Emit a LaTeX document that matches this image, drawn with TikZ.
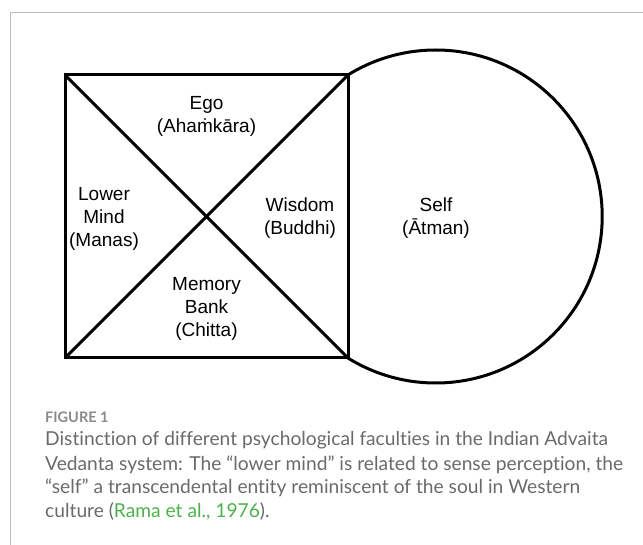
\documentclass[tikz,border=0pt]{standalone}
\usepackage{fontspec}
\setmainfont{Liberation Sans}
\newfontfamily\capfont[Ligatures={NoCommon,TeX}]{Lato}
\definecolor{capgray}{HTML}{6A6A6A}
\definecolor{figgray}{HTML}{8A8A8A}
\definecolor{linkgreen}{HTML}{4DB04D}
\definecolor{framegray}{HTML}{BDBDBD}
\begin{document}
\begin{tikzpicture}[x=1pt,y=-1pt,
  lbl/.style={font=\fontsize{19}{23}\selectfont, align=center, inner sep=0pt},
  capline/.style={font=\capfont\fontsize{19.2}{23}\selectfont, text=capgray, anchor=base west, inner sep=0pt},
  capfig/.style={font=\capfont\bfseries\fontsize{14.5}{17}\selectfont, text=figgray, anchor=base west, inner sep=0pt},
  thick line/.style={line width=3pt, draw=black}]
\useasboundingbox (0,0) rectangle (643,545);
\draw[framegray, line width=1pt] (10,545) -- (10,13) -- (643,13);
\coordinate (tl) at (65,75);
\coordinate (tr) at (348,75);
\coordinate (br) at (348,358);
\coordinate (bl) at (65,358);
\coordinate (c) at (435.7,216.5);
\draw[thick line] (c) circle[radius=166.5pt];
\fill[white] (tl) rectangle (br);
\draw[thick line, line join=miter] (tl) -- (tr) -- (br) -- (bl) -- cycle;
\draw[thick line] (tl) -- (br);
\draw[thick line] (tr) -- (bl);
\node[lbl] (ego) at (206.5,116) {Ego\\(Ahaṁkāra)};
\node[lbl] (manas) at (104,219) {Lower\\Mind\\(Manas)};
\node[lbl] (buddhi) at (300,218) {Wisdom\\(Buddhi)};
\node[lbl] (chitta) at (206.5,309) {Memory\\Bank\\(Chitta)};
\node[lbl] (atman) at (436,218) {Self\\(Ātman)};
\node[capfig] (fig) at (45,423) {FIGURE 1};
\node[capline] (l1) at (45,446) {Distinction of different psychological faculties in the Indian Advaita};
\node[capline] (l2) at (45,470) {Vedanta system: The “lower mind” is related to sense perception, the};
\node[capline] (l3) at (45,493) {“self” a transcendental entity reminiscent of the soul in Western};
\node[capline] (l4) at (45,517) {culture (\textcolor{linkgreen}{Rama et al., 1976}).};
\end{tikzpicture}
\end{document}
